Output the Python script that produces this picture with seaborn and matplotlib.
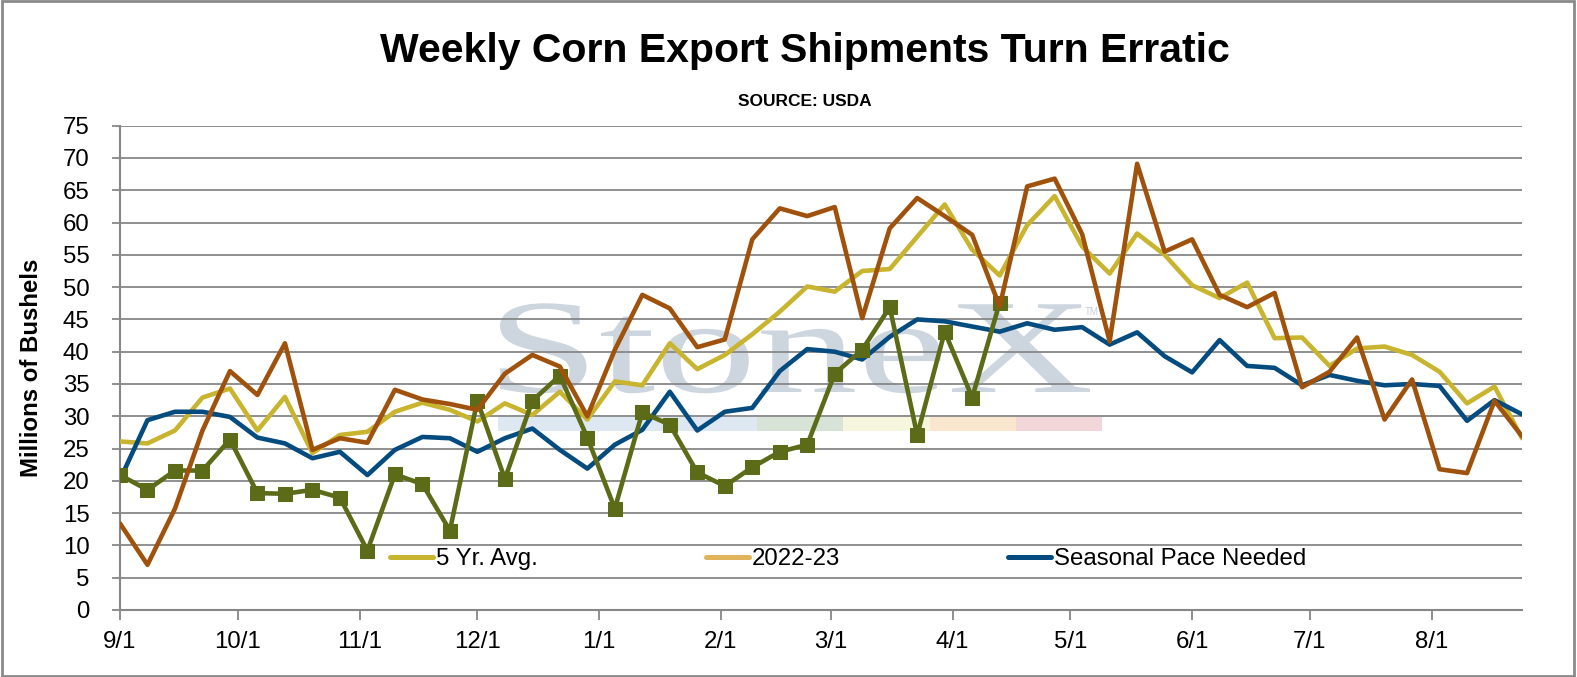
import numpy as np
import pandas as pd
import matplotlib
matplotlib.use("Agg")
import matplotlib.pyplot as plt
import seaborn as sns
from matplotlib.lines import Line2D
from matplotlib.patches import Rectangle, PathPatch
from matplotlib.textpath import TextPath
from matplotlib.font_manager import FontProperties
from matplotlib.transforms import Affine2D

# ---------------- data ----------------
start_date = "2022-09-01"
n_weeks = 52

five_yr_avg = [26.1, 25.8, 27.8, 32.9, 34.3, 27.8, 33.0, 24.3, 27.1, 27.6,
               30.7, 32.1, 31.0, 29.2, 32.0, 30.2, 33.8, 29.5, 35.4, 34.8,
               41.3, 37.3, 39.5, 42.7, 46.2, 50.1, 49.3, 52.5, 52.8, 57.8,
               62.8, 55.8, 51.8, 59.6, 64.1, 56.3, 52.1, 58.3, 55.0, 50.3,
               48.3, 50.7, 42.1, 42.2, 37.8, 40.5, 40.8, 39.5, 36.9, 32.0,
               34.6, 26.6]

y2022_23 = [13.4, 7.0, 15.7, 27.8, 37.0, 33.3, 41.3, 24.8, 26.6, 25.9,
            34.1, 32.6, 31.9, 31.0, 36.6, 39.5, 37.7, 30.0, 40.3, 48.8,
            46.7, 40.7, 41.9, 57.4, 62.2, 61.0, 62.4, 45.2, 59.1, 63.8,
            61.0, 58.1, 47.0, 65.6, 66.8, 58.2, 41.6, 69.1, 55.5, 57.4,
            48.8, 46.9, 49.1, 34.5, 36.9, 42.2, 29.5, 35.7, 21.8, 21.2,
            32.4, 26.9]

seasonal_pace = [20.2, 29.4, 30.7, 30.7, 29.9, 26.7, 25.8, 23.5, 24.5, 20.9,
                 24.8, 26.8, 26.6, 24.5, 26.6, 28.1, 24.8, 21.9, 25.6, 27.9,
                 33.8, 27.8, 30.7, 31.3, 37.0, 40.4, 40.0, 38.8, 42.3, 45.0,
                 44.7, 43.9, 43.1, 44.4, 43.4, 43.8, 41.1, 43.0, 39.3, 36.8,
                 41.8, 37.8, 37.5, 34.8, 36.4, 35.5, 34.8, 35.0, 34.7, 29.3,
                 32.5, 30.3]

y2023_24 = [20.9, 18.6, 21.6, 21.6, 26.4, 18.1, 18.0, 18.6, 17.4, 9.2,
            21.0, 19.5, 12.3, 32.4, 20.3, 32.4, 36.3, 26.7, 15.7, 30.6,
            28.7, 21.3, 19.2, 22.1, 24.5, 25.6, 36.6, 40.3, 46.9, 27.1,
            43.1, 32.9, 47.6]

x_tick_dates = ["2022-09-01", "2022-10-01", "2022-11-01", "2022-12-01",
                "2023-01-01", "2023-02-01", "2023-03-01", "2023-04-01",
                "2023-05-01", "2023-06-01", "2023-07-01", "2023-08-01"]
x_tick_labels = ["9/1", "10/1", "11/1", "12/1", "1/1", "2/1", "3/1", "4/1",
                 "5/1", "6/1", "7/1", "8/1"]
y_ticks = list(range(0, 80, 5))

legend_labels = ["5 Yr. Avg.", "2022-23", "Seasonal Pace Needed"]

# ---------------- styling ----------------
C_5YR = "#C8B42E"
C_2223 = "#A0520C"
C_2223_LEG = "#E1B45C"
C_SEAS = "#044C80"
C_2324 = "#5B6B17"
GRID = "#878787"

sns.set_style("white")
plt.rcParams["font.family"] = ["Liberation Sans", "DejaVu Sans"]
plt.rcParams["text.color"] = "black"
plt.rcParams["axes.labelcolor"] = "black"
plt.rcParams["xtick.labelcolor"] = "black"
plt.rcParams["ytick.labelcolor"] = "black"

W, H = 1577, 677
fig = plt.figure(figsize=(W / 100, H / 100), dpi=100)
ax = fig.add_axes([120 / W, 1 - 610 / H, (1522 - 120) / W, (610 - 125.7) / H])

dates = pd.date_range(start_date, periods=n_weeks, freq="7D")
df = pd.DataFrame({"date": dates, "five": five_yr_avg, "y2223": y2022_23,
                   "seas": seasonal_pace})
df24 = pd.DataFrame({"date": dates[:len(y2023_24)], "y2324": y2023_24})

# watermark (decoration)
tp = TextPath((0, 0), "StoneX", size=134, prop=FontProperties(family="Liberation Serif"))
bb = tp.get_extents()
sx = 590 / bb.width
ax.add_patch(PathPatch(tp, transform=Affine2D().scale(sx, 1.0).translate(500 - bb.x0 * sx, H - 392),
                       facecolor="#CDD5DF", edgecolor="none", zorder=0.1))
bar_cols = ["#DDE8F2", "#D6E3D6", "#F6F6DE", "#F9E6CF", "#F3D6DA"]
bar_edges = [498, 757, 843, 930, 1016, 1102]
for i, c in enumerate(bar_cols):
    ax.add_patch(Rectangle((bar_edges[i], H - 431), bar_edges[i + 1] - bar_edges[i], 14,
                           transform=None, facecolor=c, edgecolor="none", zorder=0.1))
fig.text(1092 / W, 1 - 312 / H, "TM", fontsize=7, color="#C8CED8", ha="center", va="center")

ax.set_axisbelow(True)
ax.yaxis.grid(True, color=GRID, lw=1.3, zorder=0.5)
ax.xaxis.grid(False)

lw = 3.3
sns.lineplot(data=df, x="date", y="five", ax=ax, color=C_5YR, lw=lw, zorder=3)
sns.lineplot(data=df, x="date", y="seas", ax=ax, color=C_SEAS, lw=lw, zorder=3)
sns.lineplot(data=df24, x="date", y="y2324", ax=ax, color=C_2324, lw=lw, marker="s",
             markersize=10, markeredgecolor=C_2324, markerfacecolor=C_2324, zorder=4)
sns.lineplot(data=df, x="date", y="y2223", ax=ax, color=C_2223, lw=lw, zorder=5)

ax.set_xlim(pd.Timestamp(start_date), dates[-1])
ax.set_ylim(0, 75)
ax.set_yticks(y_ticks)
ax.set_xticks(pd.to_datetime(x_tick_dates))
ax.set_xticklabels(x_tick_labels)
ax.set_xlabel("")
ax.set_ylabel("Millions of Bushels", fontsize=17.3, fontweight="bold", labelpad=14,
              color="black")

for s in ["top", "right"]:
    ax.spines[s].set_visible(False)
for s in ["left", "bottom"]:
    ax.spines[s].set_color(GRID)
    ax.spines[s].set_linewidth(1.5)
    ax.spines[s].set_zorder(1)
ax.tick_params(axis="y", which="both", left=True, length=6, width=1.3, color=GRID,
               labelsize=17.3, pad=16, labelcolor="black")
ax.tick_params(axis="x", which="both", bottom=True, length=7, width=1.3, color=GRID,
               labelsize=17.3, pad=8, labelcolor="black")

handles = [Line2D([], [], color=C_5YR, lw=3.6),
           Line2D([], [], color=C_2223_LEG, lw=3.6),
           Line2D([], [], color=C_SEAS, lw=3.6)]
leg = ax.legend(handles, legend_labels, loc="center", ncol=3, frameon=False,
                bbox_to_anchor=(848 / W, 1 - 559 / H), bbox_transform=fig.transFigure,
                fontsize=17.3, handlelength=1.8, handletextpad=0.1, columnspacing=7.0)
for t in leg.get_texts():
    t.set_color("black")
leg.set_zorder(10)

fig.text(805 / W, 1 - 51 / H, "Weekly Corn Export Shipments Turn Erratic",
         fontsize=29.5, fontweight="bold", ha="center", va="center", color="black")
fig.text(805 / W, 1 - 101 / H, "SOURCE: USDA", fontsize=12.5, fontweight="bold",
         ha="center", va="center", color="black")

fig.patches.append(Rectangle((0.001, 0.002), 0.997, 0.996, transform=fig.transFigure,
                             fill=False, edgecolor="#8A8A8A", lw=2))

fig.savefig("out.png", dpi=100)
